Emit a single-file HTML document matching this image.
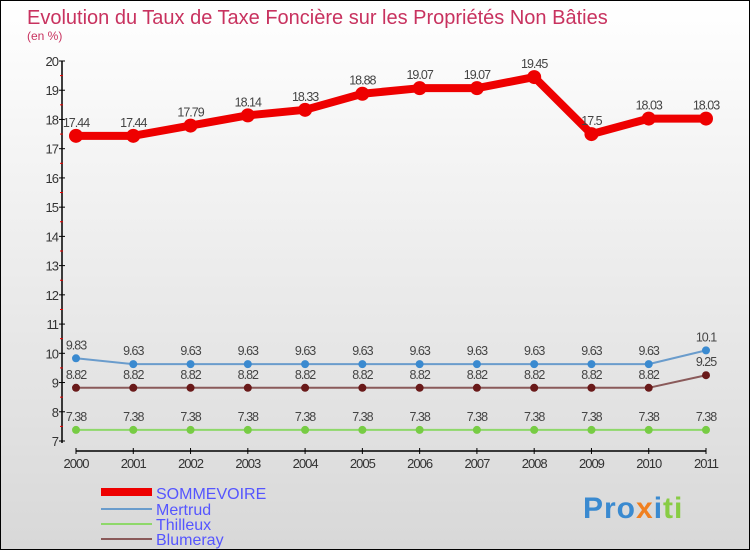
<!DOCTYPE html>
<html><head><meta charset="utf-8"><style>
body{margin:0}
#c{position:relative;width:748px;height:548px;border:1px solid #000;background:linear-gradient(#fff,#d8d8d8);font-family:"Liberation Sans",sans-serif;overflow:hidden}
</style></head><body>
<div id="c">
<svg id="s" width="748" height="548" style="position:absolute;left:0;top:0">
<text x="26" y="23" font-size="20" fill="#c8325f">Evolution du Taux de Taxe Foncière sur les Propriétés Non Bâties</text>
<text x="26" y="39" font-size="12" fill="#c8325f">(en %)</text>
<g id="axes"></g><g id="series"></g>
<g>
<rect x="100" y="487" width="51" height="8" fill="#e00"/>
<text x="155" y="498" font-size="16" fill="#55f">SOMMEVOIRE</text>
<line x1="100" y1="508" x2="151" y2="508" stroke="#6a9ccc" stroke-width="2"/>
<text x="155" y="514" font-size="16" fill="#55f">Mertrud</text>
<line x1="100" y1="523" x2="151" y2="523" stroke="#8ed86a" stroke-width="2"/>
<text x="155" y="529" font-size="16" fill="#55f">Thilleux</text>
<line x1="100" y1="538" x2="151" y2="538" stroke="#8a5a5a" stroke-width="2"/>
<text x="155" y="544" font-size="16" fill="#55f">Blumeray</text>
</g>
<text x="582" y="517" font-size="30" font-weight="bold" fill="#3a8ad0" letter-spacing="1">Pro<tspan fill="#f08020">x</tspan><tspan fill="#3a8ad0">i</tspan><tspan fill="#8c4">ti</tspan></text>
</svg>
</div>
<script>
const years=["2000","2001","2002","2003","2004","2005","2006","2007","2008","2009","2010","2011"];
const yTicks=[7,8,9,10,11,12,13,14,15,16,17,18,19,20];
const sommevoire=[17.44,17.44,17.79,18.14,18.33,18.88,19.07,19.07,19.45,17.5,18.03,18.03];
const mertrud=[9.83,9.63,9.63,9.63,9.63,9.63,9.63,9.63,9.63,9.63,9.63,10.1];
const thilleux=[7.38,7.38,7.38,7.38,7.38,7.38,7.38,7.38,7.38,7.38,7.38,7.38];
const blumeray=[8.82,8.82,8.82,8.82,8.82,8.82,8.82,8.82,8.82,8.82,8.82,9.25];
const NS="http://www.w3.org/2000/svg";
const xS=i=>75+i*(630/(years.length-1));
const yS=v=>440-(v-7)*(380/13);
function mk(t,a,p){const e=document.createElementNS(NS,t);for(const k in a)e.setAttribute(k,a[k]);p.appendChild(e);return e;}
const ax=document.getElementById('axes');
let l=mk('line',{x1:61,y1:yS(20),x2:61,y2:yS(7)+2,stroke:'#000','stroke-width':1.5},ax);


l=mk('line',{x1:75,y1:450,x2:705,y2:450,stroke:'#000','stroke-width':1.5},ax);


yTicks.forEach(v=>{
 const y=yS(v);
 mk('line',{x1:58,y1:y,x2:64,y2:y,stroke:'#000'},ax);
 if(v<20)mk('line',{x1:59,y1:y-380/26,x2:62,y2:y-380/26,stroke:'#e00'},ax);
 const t=mk('text',{x:57,y:y+5,'font-size':13,fill:'#333','text-anchor':'end','letter-spacing':'-1'},ax);
 t.textContent=v;
 
 
});
years.forEach((yr,i)=>{
 const x=xS(i);
 mk('line',{x1:x,y1:447,x2:x,y2:453,stroke:'#000'},ax);
 const t=mk('text',{x:x,y:467,'font-size':13,fill:'#333','text-anchor':'middle','letter-spacing':'-1'},ax);
 t.textContent=yr;
 
 
});
const sg=document.getElementById('series');
function draw(name,vals,col,w,r,dot){
 const g=mk('g',{},sg);
 
 
 const p=mk('polyline',{points:vals.map((v,i)=>xS(i)+','+yS(v)).join(' '),fill:'none',stroke:col,'stroke-width':w,'stroke-linejoin':'round'},g);
 
 
 vals.forEach((v,i)=>{
  const c=mk('circle',{cx:xS(i),cy:yS(v),r:r,fill:dot},g);
  
  
  const t=mk('text',{x:xS(i),y:yS(v)-9,'font-size':12.5,fill:'#444','text-anchor':'middle','letter-spacing':'-1'},g);
  t.textContent=v;
  
  
 });
}
draw('thilleux',thilleux,'#8ed86a',2,4,'#7c4');
draw('blumeray',blumeray,'#8a5a5a',2,4,'#6a1a1a');
draw('mertrud',mertrud,'#6a9ccc',2,4,'#3a8ad0');
draw('sommevoire',sommevoire,'#e00',8,7,'#e00');
</script>
</body></html>
